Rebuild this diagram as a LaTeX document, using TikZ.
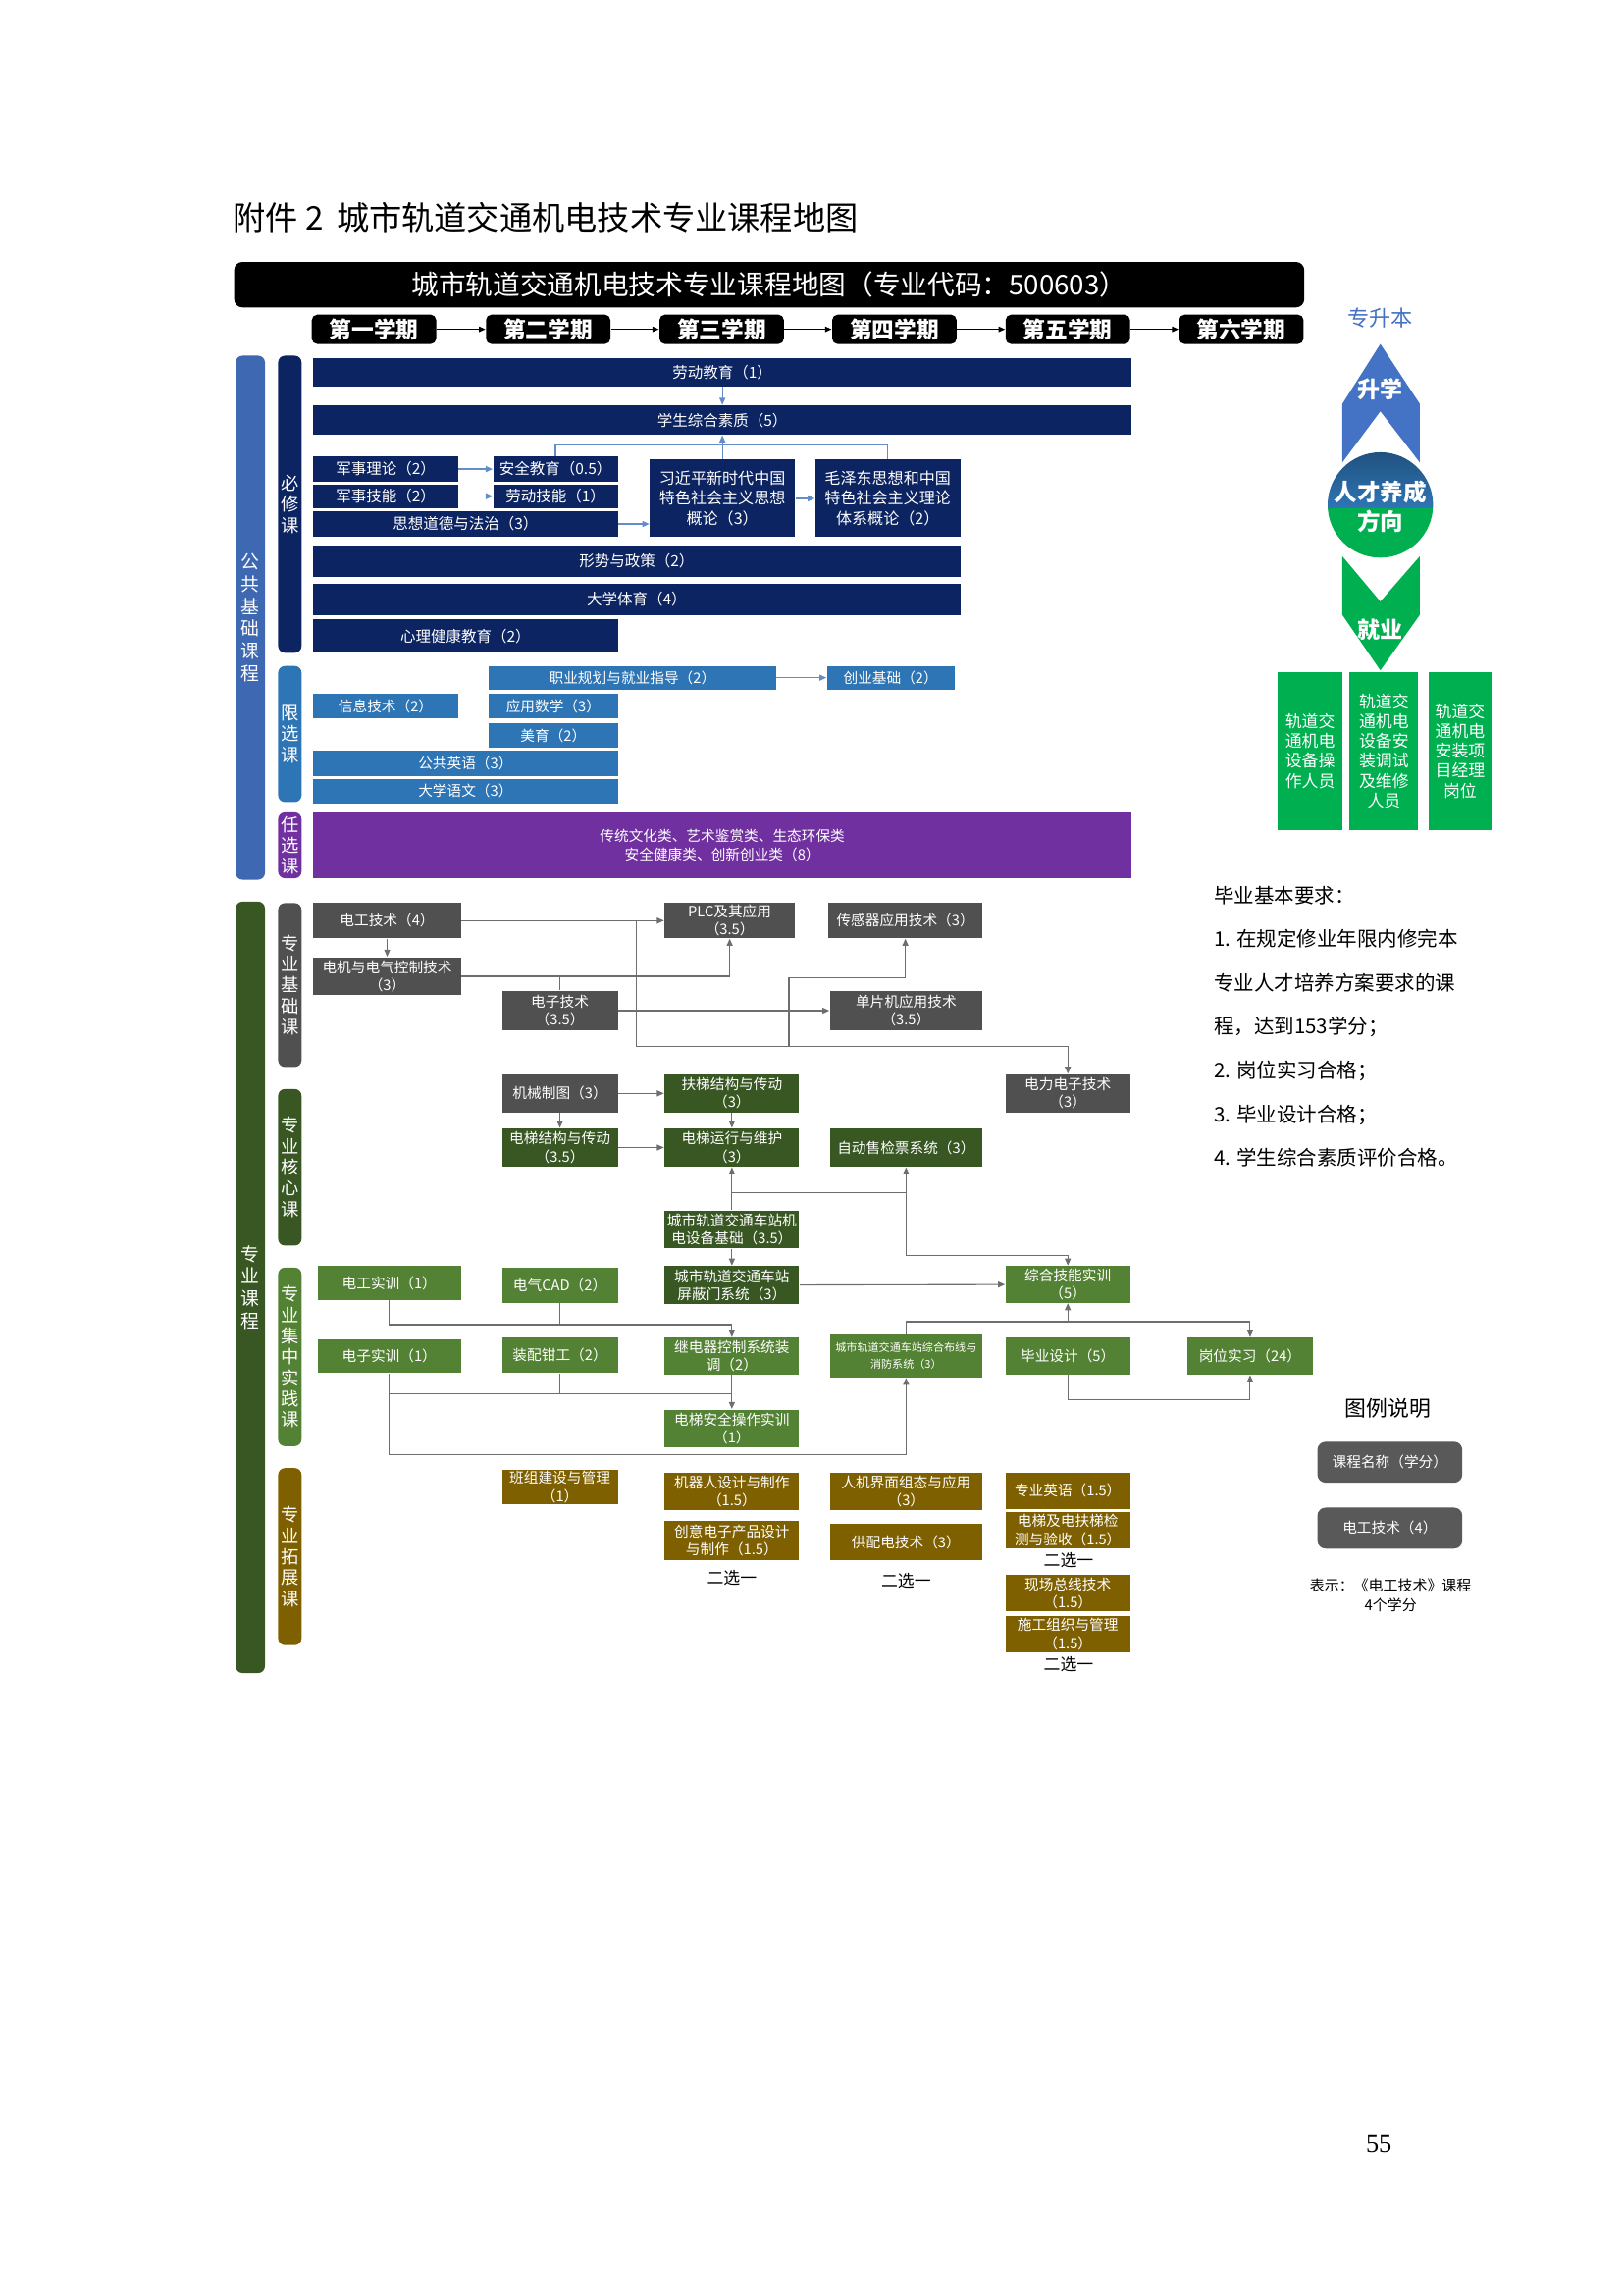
\documentclass[tikz,border=0pt]{standalone}
\usepackage{fontspec}
\setmainfont{Noto Sans CJK SC}
\newfontfamily\pagenumfont{Liberation Serif}
\usetikzlibrary{arrows.meta}

\definecolor{pubnavy}{RGB}{12,36,97}
\definecolor{pubblue}{RGB}{62,105,178}
\definecolor{limblue}{RGB}{46,117,182}
\definecolor{optpurple}{RGB}{112,48,160}
\definecolor{majgreen}{RGB}{56,87,35}
\definecolor{basegray}{RGB}{80,80,80}
\definecolor{coregreen}{RGB}{56,87,35}
\definecolor{pracgreen}{RGB}{84,130,53}
\definecolor{extolive}{RGB}{127,96,0}
\definecolor{jobgreen}{RGB}{0,176,80}
\definecolor{upblue}{RGB}{68,114,196}
\definecolor{topblue}{RGB}{31,78,121}
\definecolor{lineblue}{RGB}{100,140,200}
\definecolor{linegray}{RGB}{110,110,110}
\definecolor{legendgray}{RGB}{89,89,89}

\newlength\px
\setlength\px{0.01894cm}
\newcommand{\fz}[2]{\fontsize{#1pt}{#2pt}\selectfont}

\begin{document}
\begin{tikzpicture}[x=0.01894cm, y=-0.01894cm,
  sz/.style 2 args={minimum width=#1*\px, minimum height=#2*\px},
  bar/.style={rounded corners=2.5pt, inner sep=0pt, align=center, text=white, font=\fz{6.8}{8.2}},
  ibar/.style={bar, font=\fz{6.6}{7.7}},
  crs/.style={inner sep=0pt, align=center, text=white, font=\fz{5.6}{7}},
  mcrs/.style={inner sep=0pt, align=center, text=white, font=\fz{5.3}{6.6}},
  semester/.style={fill=black, rounded corners=2pt, inner sep=0pt, text=white, font=\fz{8.2}{9}\bfseries, minimum width=85*\px, minimum height=20*\px},
  jobbox/.style={fill=jobgreen, inner sep=0pt, align=center, text=white, font=\fz{6.1}{7.3}},
  legendbox/.style={fill=legendgray, rounded corners=3pt, inner sep=0pt, text=white, font=\fz{5.3}{6.5}, minimum width=99*\px, minimum height=28*\px},
  pick/.style={inner sep=0pt, font=\fz{6.1}{7}},
  bline/.style={draw=lineblue, line width=0.45pt, -{Triangle[length=2.6pt, width=2.2pt]}},
  bpath/.style={draw=lineblue, line width=0.45pt},
  cline/.style={draw=linegray, line width=0.4pt, -{Triangle[length=2.6pt, width=2.2pt]}},
  cpath/.style={draw=linegray, line width=0.4pt},
  semarrow/.style={draw=black, line width=0.4pt, -{Triangle[length=2.4pt, width=2pt]}}
]
  \useasboundingbox (0,0) rectangle (1109,1568);

  % === 标题 ===
  \node[anchor=west, inner sep=0pt, font=\fz{12}{14}] (title) at (159,149) {附件 2\, 城市轨道交通机电技术专业课程地图};
  \node[fill=black, rounded corners=3pt, sz={731}{31}, inner sep=0pt, text=white, font=\fz{10}{12}] (banner) at (525.5,194.5) {城市轨道交通机电技术专业课程地图（专业代码：500603）};

  % 学期
  \node[semester] (sem1) at (255.5,225) {第一学期};
  \node[semester] (sem2) at (374.5,225) {第二学期};
  \node[semester] (sem3) at (493,225) {第三学期};
  \node[semester] (sem4) at (611,225) {第四学期};
  \node[semester] (sem5) at (729.5,225) {第五学期};
  \node[semester] (sem6) at (848,225) {第六学期};
  \draw[semarrow] (sem1) -- (sem2);
  \draw[semarrow] (sem2) -- (sem3);
  \draw[semarrow] (sem3) -- (sem4);
  \draw[semarrow] (sem4) -- (sem5);
  \draw[semarrow] (sem5) -- (sem6);

  % === 公共基础课程 ===
  \node[bar, fill=pubblue, sz={20}{358}] (ggjc) at (171,422) {公\\共\\基\\础\\课\\程};
  \node[ibar, fill=pubnavy, sz={16}{203}] (bxk) at (198,344.5) {必\\修\\课};
  \node[ibar, fill=limblue, sz={16}{93}] (xxk) at (198,501.5) {限\\选\\课};
  \node[ibar, fill=optpurple, sz={16}{45}] (rxkbar) at (198,577.5) {任\\选\\课};

  % 必修课
  \node[crs, fill=pubnavy, sz={559}{19}] (ldjy) at (493.5,254.5) {劳动教育（1）};
  \node[crs, fill=pubnavy, sz={559}{20}] (xszh) at (493.5,287) {学生综合素质（5）};
  \node[crs, fill=pubnavy, sz={99}{17}] (jsll) at (263.5,320.5) {军事理论（2）};
  \node[crs, fill=pubnavy, sz={99}{16}] (jsjn) at (263.5,339) {军事技能（2）};
  \node[crs, fill=pubnavy, sz={208}{18}] (sxdd) at (318,358) {思想道德与法治（3）};
  \node[crs, fill=pubnavy, sz={85}{17}] (aqjy) at (379.5,320.5) {安全教育（0.5）};
  \node[crs, fill=pubnavy, sz={85}{16}] (ldjn) at (379.5,339) {劳动技能（1）};
  \node[crs, fill=pubnavy, sz={99}{53}, font=\fz{5.8}{7.5}] (xjp) at (493.5,340.5) {习近平新时代中国\\特色社会主义思想\\概论（3）};
  \node[crs, fill=pubnavy, sz={99}{53}, font=\fz{5.8}{7.5}] (mzd) at (606.5,340.5) {毛泽东思想和中国\\特色社会主义理论\\体系概论（2）};
  \node[crs, fill=pubnavy, sz={442}{21}] (xszc) at (435,383.5) {形势与政策（2）};
  \node[crs, fill=pubnavy, sz={442}{21}] (dxty) at (435,409.5) {大学体育（4）};
  \node[crs, fill=pubnavy, sz={208}{23}] (xljk) at (318,434.5) {心理健康教育（2）};

  \draw[bline] (ldjy) -- (xszh);
  \draw[bline] (jsll) -- (aqjy);
  \draw[bline] (jsjn) -- (ldjn);
  \draw[bline] (sxdd.east) -- (sxdd.east -| xjp.west);
  \draw[bline] (xjp) -- (mzd);
  \draw[bline] (xjp) -- (xszh);
  \coordinate (tl) at (606.5,304);
  \draw[bpath] (aqjy.north) |- (tl) -- (mzd.north);

  % 限选课
  \node[mcrs, fill=limblue, sz={196}{16}] (zygh) at (432,463) {职业规划与就业指导（2）};
  \node[mcrs, fill=limblue, sz={87}{16}] (cyjc) at (608.5,463) {创业基础（2）};
  \node[mcrs, fill=limblue, sz={99}{17}] (xxjs) at (263.5,482.5) {信息技术（2）};
  \node[mcrs, fill=limblue, sz={88}{17}] (yysx) at (378,482.5) {应用数学（3）};
  \node[mcrs, fill=limblue, sz={88}{17}] (meiyu) at (378,502.5) {美育（2）};
  \node[mcrs, fill=limblue, sz={208}{17}] (ggyy) at (318,521.5) {公共英语（3）};
  \node[mcrs, fill=limblue, sz={208}{17}] (dxyw) at (318,540.5) {大学语文（3）};
  \draw[bline] (zygh) -- (cyjc);

  % 任选课
  \node[mcrs, fill=optpurple, sz={559}{45}, font=\fz{5.3}{7}] (rxk) at (493.5,577.5) {传统文化类、艺术鉴赏类、生态环保类\\安全健康类、创新创业类（8）};

  % === 专业课程 ===
  \node[bar, fill=majgreen, sz={20}{527}] (zykc) at (171,879.5) {专\\业\\课\\程};
  \node[ibar, fill=basegray, sz={16}{112}] (jck) at (198,673) {专\\业\\基\\础\\课};
  \node[ibar, fill=coregreen, sz={16}{107}] (hxk) at (198,797.5) {专\\业\\核\\心\\课};
  \node[ibar, fill=pracgreen, sz={16}{122}] (sjk) at (198,927) {专\\业\\集\\中\\实\\践\\课};
  \node[ibar, fill=extolive, sz={16}{121}] (tzk) at (198,1063.5) {专\\业\\拓\\展\\课};

  % 专业基础课
  \node[mcrs, fill=basegray, sz={101}{24}] (dgjs) at (264.5,629) {电工技术（4）};
  \node[mcrs, fill=basegray, sz={101}{26}] (djdq) at (264.5,667) {电机与电气控制技术\\（3）};
  \node[mcrs, fill=basegray, sz={79}{27}] (dzjs) at (382.5,690.5) {电子技术\\（3.5）};
  \node[mcrs, fill=basegray, sz={89}{24}] (plc) at (498.5,629) {PLC及其应用\\（3.5）};
  \node[mcrs, fill=basegray, sz={105}{24}] (cgq) at (618.5,629) {传感器应用技术（3）};
  \node[mcrs, fill=basegray, sz={104}{27}] (dpj) at (619,690.5) {单片机应用技术\\（3.5）};
  \node[mcrs, fill=basegray, sz={85}{26}] (dlzd) at (729.5,747) {电力电子技术\\（3）};

  \draw[cline] (dgjs) -- (plc);
  \draw[cline] (dgjs) -- (djdq);
  \draw[cline] (djdq.east) -| (plc.south);
  \draw[cpath] (dzjs.north) -- (dzjs.north |- djdq.east);
  \draw[cline] (dzjs) -- (dpj);
  \coordinate (jb) at (434.5,715);
  \draw[cline] (jb |- dgjs.east) -- (jb) -| (dlzd.north);
  \coordinate (j2) at (539,715);
  \coordinate (j3) at (539,668);
  \draw[cline] (j2) -- (j3) -| (cgq.south);

  % 专业核心课
  \node[mcrs, fill=basegray, sz={79}{26}] (jxzt) at (382.5,747) {机械制图（3）};
  \node[mcrs, fill=coregreen, sz={92}{26}] (ftjg) at (500,747) {扶梯结构与传动\\（3）};
  \node[mcrs, fill=coregreen, sz={79}{26}] (dtjg) at (382.5,784) {电梯结构与传动\\（3.5）};
  \node[mcrs, fill=coregreen, sz={92}{26}] (dtyx) at (500,784) {电梯运行与维护\\（3）};
  \node[mcrs, fill=coregreen, sz={104}{26}] (zdsj) at (619,784) {自动售检票系统（3）};
  \node[mcrs, fill=coregreen, sz={92}{26}] (jdsb) at (500,840) {城市轨道交通车站机\\电设备基础（3.5）};

  \draw[cline] (jxzt) -- (ftjg);
  \draw[cline] (jxzt) -- (dtjg);
  \draw[cline] (ftjg) -- (dtyx);
  \draw[cline] (dtjg) -- (dtyx);
  \draw[cline] (jdsb) -- (dtyx);
  \coordinate (k1) at (500,815);
  \coordinate (k2) at (619,815);
  \coordinate (k3) at (619,858);
  \draw[cline] (k1) -| (zdsj.south);

  % 专业集中实践课
  \node[mcrs, fill=pracgreen, sz={98}{23}] (dgsx) at (266,876.5) {电工实训（1）};
  \node[mcrs, fill=pracgreen, sz={79}{24}] (dqcad) at (382.5,878) {电气CAD（2）};
  \node[mcrs, fill=coregreen, sz={92}{26}] (pbm) at (500,878) {城市轨道交通车站\\屏蔽门系统（3）};
  \node[mcrs, fill=pracgreen, sz={85}{25}] (zhjn) at (729.5,877.5) {综合技能实训\\（5）};
  \node[mcrs, fill=pracgreen, sz={98}{23}] (dzsx) at (266,926.5) {电子实训（1）};
  \node[mcrs, fill=pracgreen, sz={79}{24}] (zpqg) at (382.5,926) {装配钳工（2）};
  \node[mcrs, fill=pracgreen, sz={92}{25}] (jdq) at (500,926.5) {继电器控制系统装\\调（2）};
  \node[mcrs, fill=pracgreen, sz={104}{29}, font=\fz{4}{6}] (zhbx) at (619,926.5) {城市轨道交通车站综合布线与\\消防系统（3）};
  \node[mcrs, fill=pracgreen, sz={85}{25}] (bysj) at (729.5,926.5) {毕业设计（5）};
  \node[mcrs, fill=pracgreen, sz={86}{25}] (gwsx) at (854,926.5) {岗位实习（24）};
  \node[mcrs, fill=pracgreen, sz={92}{26}] (dtaq) at (500,976) {电梯安全操作实训\\（1）};

  \draw[cline] (k2) -- (k3) -| (zhjn.north);
  \draw[cline] (jdsb) -- (pbm);
  \draw[cline] (pbm) -- (zhjn);
  \coordinate (p1) at (500,905);
  \draw[cpath] (dgsx.south) |- (p1);
  \draw[cpath] (dqcad.south) -- (dqcad.south |- p1);
  \draw[cline] (p1) -- (jdq.north);
  \coordinate (p2) at (500,952);
  \draw[cpath] (dzsx.south) |- (p2);
  \draw[cpath] (zpqg.south) -- (zpqg.south |- p2);
  \draw[cline] (jdq) -- (dtaq);
  \coordinate (p3) at (266,994);
  \draw[cline] (dzsx.south) -- (p3) -| (zhbx.south);
  \coordinate (p4) at (619,903);
  \draw[cline] (zhbx.north) -- (p4) -| (gwsx.north);
  \draw[cline] (zhjn.south |- p4) -- (zhjn.south);
  \coordinate (p5) at (729.5,956);
  \draw[cline] (bysj.south) -- (p5) -| (gwsx.south);

  % 专业拓展课
  \node[mcrs, fill=extolive, sz={79}{24}] (bzjs) at (382.5,1016) {班组建设与管理\\（1）};
  \node[mcrs, fill=extolive, sz={92}{26}] (jqr) at (500,1019) {机器人设计与制作\\（1.5）};
  \node[mcrs, fill=extolive, sz={92}{27}] (cydz) at (500,1052.5) {创意电子产品设计\\与制作（1.5）};
  \node[mcrs, fill=extolive, sz={104}{26}] (rjjm) at (619,1019) {人机界面组态与应用\\（3）};
  \node[mcrs, fill=extolive, sz={104}{25}] (gpd) at (619,1053.5) {供配电技术（3）};
  \node[mcrs, fill=extolive, sz={85}{25}] (zyyy) at (729.5,1018.5) {专业英语（1.5）};
  \node[mcrs, fill=extolive, sz={85}{25}] (dtjc) at (729.5,1045.5) {电梯及电扶梯检\\测与验收（1.5）};
  \node[mcrs, fill=extolive, sz={85}{25}] (xczx) at (729.5,1088.5) {现场总线技术\\（1.5）};
  \node[mcrs, fill=extolive, sz={85}{25}] (sgzz) at (729.5,1116.5) {施工组织与管理\\（1.5）};
  \node[pick] (exy1) at (500,1078) {二选一};
  \node[pick] (exy2) at (619,1080) {二选一};
  \node[pick] (exy3) at (730,1066) {二选一};
  \node[pick] (exy4) at (730,1137) {二选一};

  % === 人才养成方向 ===
  \node[inner sep=0pt, text=upblue, font=\fz{8}{9}] (zsb) at (943,217) {专升本};
  \fill[upblue] (943,235) -- (970,276) -- (970,316) -- (943,281) -- (917,316) -- (917,276) -- cycle;
  \node[inner sep=0pt, text=white, font=\fz{8.3}{9}\bfseries] (shx) at (943,266) {升学};
  \begin{scope}
    \clip (943,345) circle (36);
    \shade[top color=topblue, bottom color=limblue] (900,305) rectangle (990,347);
    \fill[jobgreen] (900,347) rectangle (990,385);
  \end{scope}
  \node[inner sep=0pt, text=white, font=\fz{8.5}{9}\bfseries] (rcyc) at (943,336) {人才养成};
  \node[inner sep=0pt, text=white, font=\fz{8.5}{9}\bfseries] (fx) at (943,356) {方向};
  \fill[jobgreen] (917,380) -- (943,411) -- (970,380) -- (970,420) -- (943,458) -- (917,420) -- cycle;
  \node[inner sep=0pt, text=white, font=\fz{8.3}{9}\bfseries] (jy) at (943,430) {就业};
  \node[jobbox, sz={44}{108}] (job1) at (895,513) {轨道交\\通机电\\设备操\\作人员};
  \node[jobbox, sz={47}{108}] (job2) at (945.5,513) {轨道交\\通机电\\设备安\\装调试\\及维修\\人员};
  \node[jobbox, sz={43}{108}] (job3) at (997.5,513) {轨道交\\通机电\\安装项\\目经理\\岗位};

  % === 毕业基本要求 ===
  \node[anchor=north west, inner sep=0pt, align=left, font=\fz{7.4}{16.1}] (bysq) at (829,605) {毕业基本要求：\\1. 在规定修业年限内修完本\\专业人才培养方案要求的课\\程，达到153学分；\\2. 岗位实习合格；\\3. 毕业设计合格；\\4. 学生综合素质评价合格。};

  % === 图例说明 ===
  \node[inner sep=0pt, font=\fz{7.9}{9}] (tlsm) at (948,962) {图例说明};
  \node[legendbox] (lgd1) at (949.5,999) {课程名称（学分）};
  \node[legendbox] (lgd2) at (949.5,1044) {电工技术（4）};
  \node[inner sep=0pt, align=center, font=\fz{5.4}{7}] (lgd3) at (950,1090) {表示：《电工技术》课程\\4个学分};

  % 页码
  \node[inner sep=0pt, font=\pagenumfont\fz{9.5}{11}] (pgno) at (942,1465) {55};
\end{tikzpicture}
\end{document}
